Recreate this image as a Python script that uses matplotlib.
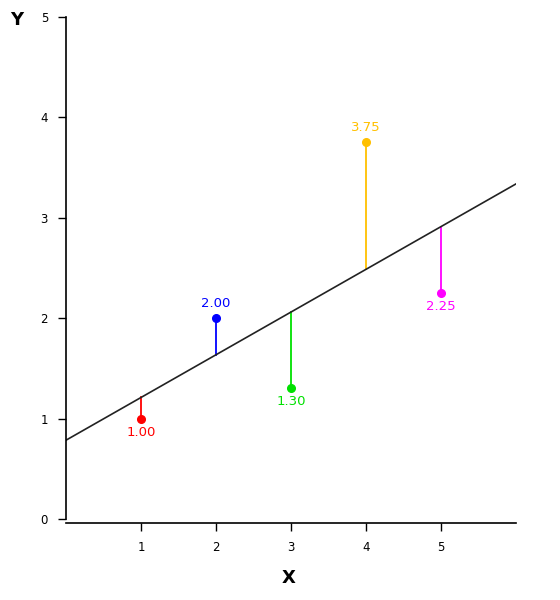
import numpy as np
import matplotlib.pyplot as plt

# data points and their colours
xs = [1, 2, 3, 4, 5]
ys = [1.00, 2.00, 1.30, 3.75, 2.25]
colors = ['#ff0000', '#0000ff', '#00e000', '#ffc000', '#ff00ff']

# least squares fit line
slope, intercept = np.polyfit(xs, ys, 1)

fig = plt.figure(figsize=(5.6, 6), dpi=100)
ax = fig.add_axes([0.118, 0.135, 0.803, 0.837])

line_x = np.array([0, 6])
ax.plot(line_x, slope * line_x + intercept, color='#222222', lw=1.2, zorder=2)

for x, y, c in zip(xs, ys, colors):
    fit = slope * x + intercept
    ax.plot([x, x], [y, fit], color=c, lw=1.3, zorder=1)
    ax.plot(x, y, 'o', color=c, ms=5.5, zorder=3)
    if y > fit:
        ax.annotate(f"{y:.2f}", (x, y), xytext=(0, 6), textcoords='offset points',
                    ha='center', va='bottom', color=c, fontsize=9.5)
    else:
        ax.annotate(f"{y:.2f}", (x, y), xytext=(0, -5), textcoords='offset points',
                    ha='center', va='top', color=c, fontsize=9.5)

ax.set_xlim(0, 6)
ax.set_ylim(0, 5)
ax.set_xticks([1, 2, 3, 4, 5])
ax.set_yticks([0, 1, 2, 3, 4, 5])
ax.tick_params(labelsize=8.5, length=6, width=1, pad=7)
for s in ['top', 'right']:
    ax.spines[s].set_visible(False)
ax.spines['bottom'].set_position(('outward', 3))
ax.spines['left'].set_bounds(0, 5)
ax.spines['left'].set_linewidth(1.2)
ax.spines['bottom'].set_linewidth(1.2)

fig.text(0.03, 0.967, 'Y', fontsize=13, fontweight='bold', ha='center', va='center')
fig.text(0.516, 0.036, 'X', fontsize=13, fontweight='bold', ha='center', va='center')

fig.savefig('out.png', dpi=100)
